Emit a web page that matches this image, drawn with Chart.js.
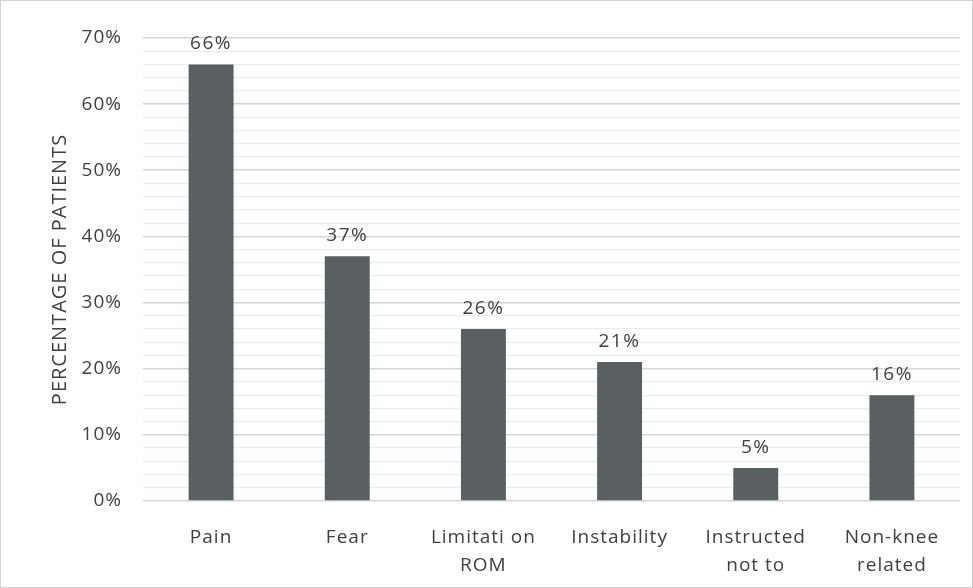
<!DOCTYPE html>
<html>
<head>
<meta charset="utf-8">
<script src="https://cdn.jsdelivr.net/npm/chart.js@4/dist/chart.umd.min.js"></script>
<style>
  html, body { margin: 0; padding: 0; background: #fff; }
  #frame { width: 971px; height: 586px; border: 1px solid #d0d0d0; position: relative; }
  canvas { display: block; }
</style>
</head>
<body>
<div id="frame"><canvas id="c" width="971" height="586"></canvas></div>
<script>
// Reasons reported by patients, share in percent
const categories = [
  ['Pain'],
  ['Fear'],
  ['Limitati on', 'ROM'],
  ['Instability'],
  ['Instructed', 'not to'],
  ['Non-knee', 'related']
];
const percentages = [66, 37, 26, 21, 5, 16];
const yTickLabels = ['0%', '10%', '20%', '30%', '40%', '50%', '60%', '70%'];

const textColor = '#404040';
const fontFamily = '"Open Sans", "Noto Sans", sans-serif';
const labelSize = 19;

// Slightly open letter spacing for every text drawn on the canvas
const spacedText = {
  id: 'spacedText',
  beforeUpdate(chart) { chart.ctx.letterSpacing = '1px'; },
  beforeDraw(chart) { chart.ctx.letterSpacing = '1px'; }
};

// Writes the value above every bar
const barValueLabels = {
  id: 'barValueLabels',
  afterDatasetsDraw(chart) {
    const ctx = chart.ctx;
    const meta = chart.getDatasetMeta(0);
    ctx.save();
    ctx.letterSpacing = '1.5px';
    ctx.fillStyle = textColor;
    ctx.font = labelSize + 'px ' + fontFamily;
    ctx.textAlign = 'center';
    ctx.textBaseline = 'alphabetic';
    meta.data.forEach((bar, i) => {
      ctx.fillText(percentages[i] + '%', bar.x, bar.y - 15);
    });
    ctx.restore();
  }
};

new Chart(document.getElementById('c'), {
  type: 'bar',
  data: {
    labels: categories,
    datasets: [{
      data: percentages,
      backgroundColor: '#5a5f61',
      borderWidth: 0,
      barPercentage: 0.55,
      categoryPercentage: 0.6
    }]
  },
  options: {
    responsive: false,
    animation: false,
    layout: { padding: { top: 37, right: 12, left: 0, bottom: 0 } },
    plugins: {
      legend: { display: false },
      tooltip: { enabled: false }
    },
    scales: {
      x: {
        grid: { display: false },
        border: { display: false },
        ticks: {
          color: textColor,
          font: { family: fontFamily, size: labelSize, lineHeight: 1.5 },
          maxRotation: 0,
          autoSkip: false,
          padding: 14
        },
        afterFit(scale) { scale.height = 86; }
      },
      y: {
        min: 0,
        max: 70,
        border: { display: false },
        grid: {
          drawTicks: false,
          color: ctx => (ctx.tick && ctx.tick.value % 10 === 0) ? '#d3d6d7' : '#e9eded',
          lineWidth: ctx => (ctx.tick && ctx.tick.value % 10 === 0) ? 1.6 : 1.3
        },
        ticks: {
          stepSize: 2,
          autoSkip: false,
          padding: 21,
          color: textColor,
          font: { family: fontFamily, size: labelSize },
          callback: v => (v % 10 === 0) ? yTickLabels[v / 10] : ''
        },
        title: {
          display: true,
          text: 'PERCENTAGE OF PATIENTS',
          color: textColor,
          font: { family: fontFamily, size: 20, lineHeight: 1.2 },
          padding: { top: 47, bottom: 0 }
        },
        afterFit(scale) { scale.width = 142; }
      }
    }
  },
  plugins: [spacedText, barValueLabels]
});
</script>
</body>
</html>
